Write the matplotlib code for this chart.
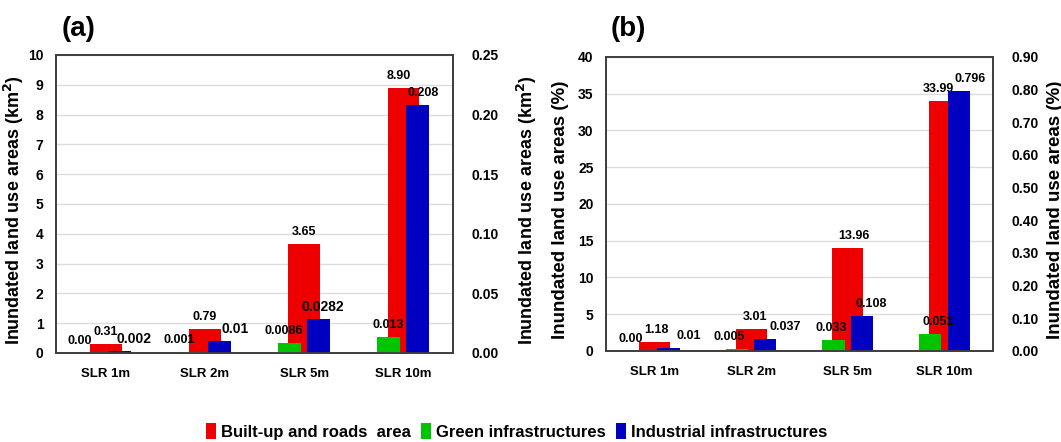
import matplotlib
matplotlib.use("Agg")
import matplotlib.pyplot as plt
from matplotlib import font_manager
from matplotlib.patches import Patch
from matplotlib.ticker import FormatStrFormatter, MultipleLocator
import numpy as np

# --- data ---
categories = ["SLR 1m", "SLR 2m", "SLR 5m", "SLR 10m"]
series_names = ["Built-up and roads  area", "Green infrastructures", "Industrial infrastructures"]

a_built = [0.31, 0.79, 3.65, 8.90]
a_green = [0.00, 0.001, 0.0086, 0.013]
a_industrial = [0.002, 0.01, 0.0282, 0.208]
a_built_lbl = ["0.31", "0.79", "3.65", "8.90"]
a_green_lbl = ["0.00", "0.001", "0.0086", "0.013"]
a_industrial_lbl = ["0.002", "0.01", "0.0282", "0.208"]

b_built = [1.18, 3.01, 13.96, 33.99]
b_green = [0.00, 0.005, 0.033, 0.051]
b_industrial = [0.01, 0.037, 0.108, 0.796]
b_built_lbl = ["1.18", "3.01", "13.96", "33.99"]
b_green_lbl = ["0.00", "0.005", "0.033", "0.051"]
b_industrial_lbl = ["0.01", "0.037", "0.108", "0.796"]

# --- styling ---
RED, GREEN, BLUE = "#ee0000", "#00c400", "#0000c0"
SPINE = "#404040"
GRID = "#dcdcdc"

available = {f.name for f in font_manager.fontManager.ttflist}
MAIN_FONT = "Liberation Sans" if "Liberation Sans" in available else "DejaVu Sans"
if "Liberation Sans Narrow" in available:
    legend_prop = {"family": "Liberation Sans Narrow", "weight": "bold", "size": 14}
else:
    legend_prop = {"family": MAIN_FONT, "weight": "bold", "size": 12}

plt.rcParams["font.family"] = MAIN_FONT
plt.rcParams["font.weight"] = "bold"

# label x-nudges in pixels (labels were hand-placed in the original)
A_DX = {"built": [0, 0, 0, -5], "green": [-11, -11, -6, 0], "ind": [14, 16, 4, 5]}
B_DX = {"built": [2, 4, 6, -6], "green": [-9, -7, -2, 8], "ind": [20, 20, 9, 11]}


def panel(fig, rect, built, green, ind, lbls, dx, left_max, left_step, right_max, right_step,
          ylabel, tag, ylabel_size, left_lab_x, right_lab_x, ind_sizes):
    ax = fig.add_axes(rect)
    ax2 = ax.twinx()
    x = np.arange(len(categories))

    ax.bar(x, built, width=0.32, color=RED, zorder=2)
    ax2.bar(x - 0.15, green, width=0.23, color=GREEN, zorder=2)
    ax2.bar(x + 0.145, ind, width=0.23, color=BLUE, zorder=2)

    ax.set_xlim(-0.5, len(categories) - 0.5)
    ax.set_ylim(0, left_max)
    ax2.set_ylim(0, right_max)
    ax.yaxis.set_major_locator(MultipleLocator(left_step))
    ax2.yaxis.set_major_locator(MultipleLocator(right_step))
    ax2.yaxis.set_major_formatter(FormatStrFormatter("%.2f"))

    ax.grid(axis="y", color=GRID, linewidth=1.0, zorder=0)
    ax.set_axisbelow(True)

    ax.set_xticks(x)
    ax.set_xticklabels(categories, fontsize=9.5, fontweight="bold")
    ax.tick_params(axis="x", length=0, pad=11)
    ax.tick_params(axis="y", length=0, pad=9, labelsize=10)
    ax2.tick_params(axis="y", length=0, pad=13, labelsize=10)
    for lab in ax.get_yticklabels() + ax2.get_yticklabels():
        lab.set_fontweight("bold")

    for a in (ax, ax2):
        for s in a.spines.values():
            s.set_color(SPINE)
            s.set_linewidth(1.3)

    ax.set_ylabel(ylabel, fontsize=ylabel_size, fontweight="bold")
    ax2.set_ylabel(ylabel, fontsize=ylabel_size, fontweight="bold")
    ax.yaxis.set_label_coords(left_lab_x, 0.48)
    ax2.yaxis.set_label_coords(right_lab_x, 0.48)

    b_l, g_l, i_l = lbls
    for i in range(len(categories)):
        ax.annotate(b_l[i], (x[i], built[i]), xytext=(dx["built"][i], 12),
                    textcoords="offset pixels", ha="center", va="center",
                    fontsize=9, fontweight="bold")
        ax2.annotate(g_l[i], (x[i] - 0.15, green[i]), xytext=(dx["green"][i], 12),
                     textcoords="offset pixels", ha="center", va="center",
                     fontsize=9, fontweight="bold")
        ax2.annotate(i_l[i], (x[i] + 0.145, ind[i]), xytext=(dx["ind"][i], 12),
                     textcoords="offset pixels", ha="center", va="center",
                     fontsize=ind_sizes[i], fontweight="bold")

    fig.text(rect[0] + 0.021, 0.935, tag, fontsize=20, fontweight="bold",
             ha="center", va="center")
    return ax


fig = plt.figure(figsize=(10.61, 4.42), dpi=100)

panel(fig, [0.0528, 0.2014, 0.3742, 0.6742], a_built, a_green, a_industrial,
      (a_built_lbl, a_green_lbl, a_industrial_lbl), A_DX,
      10, 1, 0.25, 0.05, "Inundated land use areas (km$^{\\mathbf{2}}$)", "(a)",
      13, -0.075, 1.155, [10, 10, 10, 9])
panel(fig, [0.5712, 0.2059, 0.3648, 0.6652], b_built, b_green, b_industrial,
      (b_built_lbl, b_green_lbl, b_industrial_lbl), B_DX,
      40, 5, 0.90, 0.10, "Inundated land use areas (%)", "(b)",
      13.5, -0.095, 1.14, [9, 9, 9, 9])

handles = [Patch(facecolor=c, edgecolor="none") for c in (RED, GREEN, BLUE)]
fig.legend(handles, series_names, loc="center", bbox_to_anchor=(0.487, 0.024), ncol=3,
           frameon=False, handlelength=0.6, handleheight=1.1, handletextpad=0.3,
           columnspacing=0.6, prop=legend_prop)

fig.savefig("out.png", dpi=100)
